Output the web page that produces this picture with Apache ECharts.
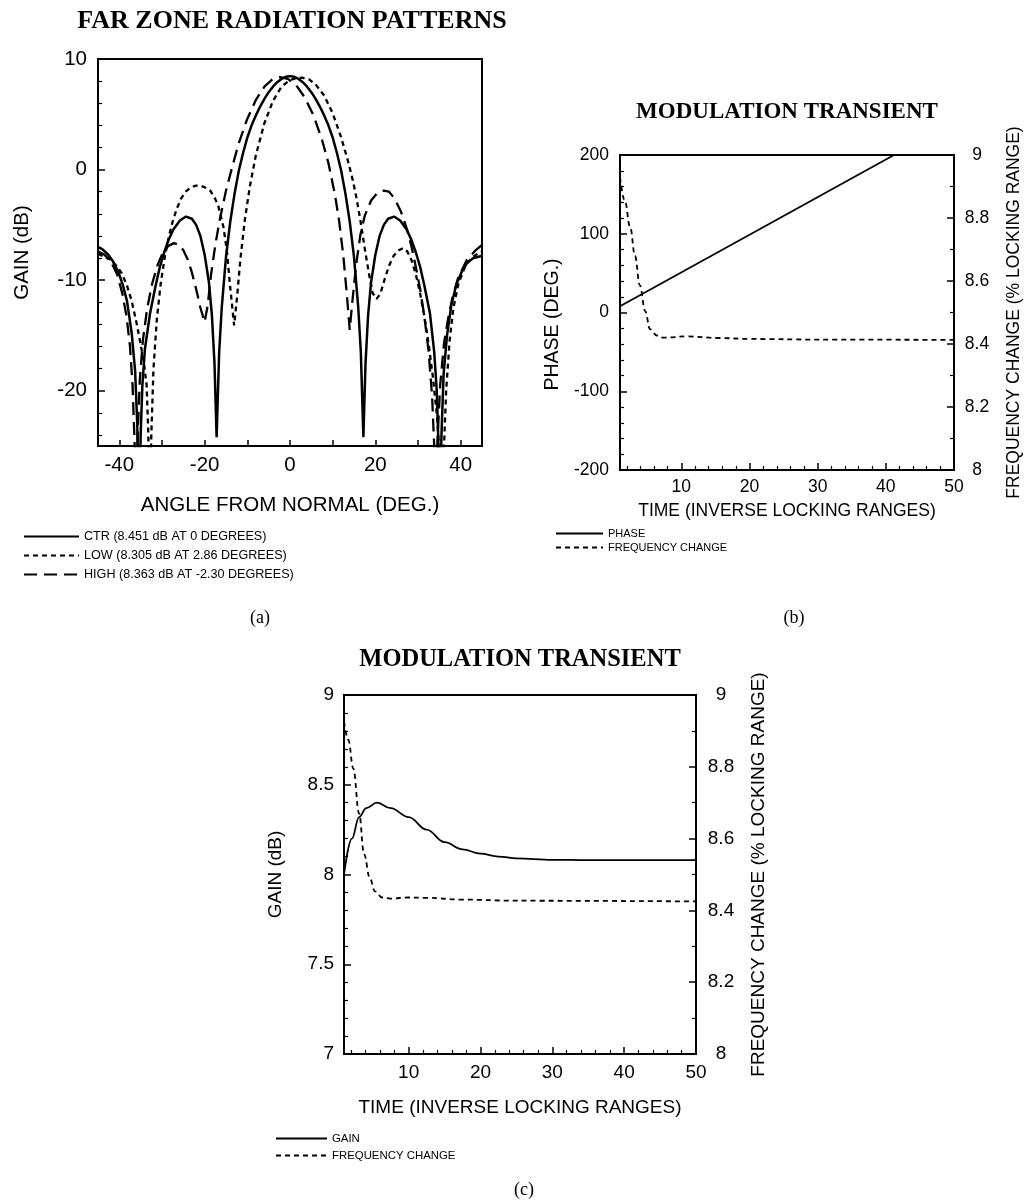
<!DOCTYPE html>
<html>
<head>
<meta charset="utf-8">
<script src="https://cdn.jsdelivr.net/npm/echarts@6/dist/echarts.min.js"></script>
<style>
  html, body { margin: 0; padding: 0; background: #fff; }
  #chart { width: 1024px; height: 1201px; }
</style>
</head>
<body>
<div id="chart"></div>
<script>
  // (a) far zone radiation patterns, [angle (deg), gain (dB)]
  var ctrPattern = [
    [-45,-7.0],[-44,-7.2],[-42.6,-7.7],[-41.5,-8.3],[-40.2,-9.3],[-39.2,-10.4],[-38.2,-11.9],[-37.1,-14.8],
    [-36.3,-18.2],[-35.8,-23],[-35.4,-32],[-35,-24],[-34.6,-19.5],[-34,-16.2],[-32.8,-13.0],[-31.5,-10.5],
    [-30.5,-8.8],[-29.5,-7.5],[-28.5,-6.4],[-27.3,-5.4],[-25.8,-4.6],[-24.4,-4.25],[-23,-4.45],[-22,-5.0],
    [-21,-6.0],[-20,-7.7],[-19,-10.2],[-18.3,-13.2],[-17.7,-17.5],[-17.2,-24.2],[-16.6,-16.5],[-16,-12.5],
    [-15,-7.9],[-14,-4.7],[-13,-2.2],[-12,-0.1],[-11,1.5],[-10,2.9],[-9,4.0],[-8,4.9],[-7,5.7],[-6,6.4],
    [-5,7.0],[-4,7.5],[-3,7.9],[-2,8.2],[-1,8.39],[0,8.451],[1,8.39],[2,8.2],[3,7.9],[4,7.5],[5,7.0],
    [6,6.4],[7,5.7],[8,4.9],[9,4.0],[10,2.9],[11,1.5],[12,-0.1],[13,-2.2],[14,-4.7],[15,-7.9],[16,-12.5],
    [16.6,-16.5],[17.2,-24.2],[17.7,-17.5],[18.3,-13.2],[19,-10.2],[20,-7.7],[21,-6.0],[22,-5.0],[23,-4.45],
    [24.4,-4.25],[25.8,-4.6],[27.3,-5.4],[28.5,-6.4],[29.5,-7.5],[30.5,-8.8],[31.5,-10.5],[32.8,-13.0],
    [33.8,-16.5],[34.4,-20],[34.8,-25],[35.1,-32],[35.5,-24],[36,-18.5],[36.8,-15],[37.8,-12.3],[39,-10.4],
    [40.3,-9.2],[41.6,-8.4],[43,-8.0],[44,-7.9],[45,-7.8]
  ];
  var lowPattern = [
    [-45,-7.6],[-43.5,-7.9],[-41.8,-8.2],[-40.5,-8.8],[-39.4,-9.4],[-38.2,-10.5],[-37.1,-11.9],[-36,-13.8],
    [-35,-15.8],[-34.2,-17.6],[-33.6,-19.5],[-33.2,-24],[-32.9,-32],[-32.5,-24],[-32,-18],[-31.2,-13.5],
    [-30.3,-10.3],[-29.3,-7.8],[-28.3,-5.9],[-27.5,-4.7],[-26.5,-3.5],[-25.5,-2.6],[-24.3,-1.95],[-23.2,-1.6],
    [-22,-1.45],[-21,-1.45],[-20,-1.6],[-18.7,-1.9],[-17.6,-2.6],[-16.8,-3.3],[-15.6,-5.2],[-14.8,-7.3],
    [-14.1,-10.3],[-13.1,-14.1],[-12.4,-11.5],[-11.6,-8],[-10.6,-4.6],[-9.4,-1.5],[-8,1.3],[-6,4.2],[-4,6.2],
    [-2,7.5],[0,8.1],[1.5,8.27],[2.86,8.305],[4.5,8.15],[6,7.7],[8,6.7],[10,5.1],[12,2.9],[13.5,0.9],
    [14.5,-0.6],[15.5,-2.4],[16.5,-4.6],[17.5,-7.1],[18.5,-9.4],[19.4,-11.2],[20.3,-11.7],[21.2,-11.2],
    [22.2,-9.9],[23.2,-8.7],[24.3,-7.8],[25.5,-7.3],[26.5,-7.1],[27.5,-7.4],[28.5,-8.2],[29.5,-9.5],
    [30.5,-11.2],[31.5,-13.3],[32.5,-15.8],[33.5,-18.8],[34.5,-22.5],[35.2,-27],[35.6,-32],[36,-26],
    [36.6,-20],[37.4,-15.5],[38.3,-12.5],[39.5,-10.3],[41,-8.8],[42.5,-8.0],[44,-7.6],[45,-7.4]
  ];
  var highPattern = [
    [-45,-7.4],[-43.5,-7.7],[-42,-8.3],[-40.5,-9.5],[-39.3,-11.2],[-38.3,-13.3],[-37.5,-16],[-36.9,-19.5],
    [-36.4,-25],[-36.1,-32],[-35.7,-24],[-35.2,-19],[-34.5,-15.5],[-33.5,-12.6],[-32.3,-10.3],[-31,-8.6],
    [-29.8,-7.5],[-28.5,-6.9],[-27.2,-6.65],[-26,-6.8],[-25,-7.3],[-24,-8.1],[-23,-9.3],[-22,-10.8],
    [-21,-12.5],[-20,-13.8],[-19.3,-12.3],[-18.5,-9.5],[-17.5,-6.8],[-16.5,-4.6],[-15,-1.9],[-13.5,0.3],
    [-12,2.4],[-10,4.6],[-8,6.3],[-6,7.5],[-4,8.2],[-2.3,8.363],[-0.5,8.2],[1.5,7.6],[3.5,6.5],[5.5,4.9],
    [7.5,2.7],[9,0.6],[10.5,-2.2],[11.5,-4.6],[12.5,-7.8],[13.3,-11.2],[14,-14.5],[14.6,-12],[15.5,-8.6],
    [16.5,-5.9],[17.5,-4.2],[19,-2.8],[20.5,-2.1],[22,-1.9],[23.2,-2.0],[24.5,-2.6],[26,-3.8],[27.5,-5.5],
    [28.5,-7],[29.5,-8.8],[30.5,-10.8],[31.5,-13.3],[32.5,-16.5],[33.3,-20.5],[33.8,-25],[34.1,-32],
    [34.5,-25],[35.2,-19.5],[36.1,-15.7],[37.1,-13.4],[38,-11.7],[39.4,-9.8],[41.4,-8.2],[43.5,-7.3],[45,-6.8]
  ];

  // (b) modulation transient, [time (inverse locking ranges), value]
  var phaseB = [[1,8],[41.2,200]];
  var freqB = [
    [1,8.93],[1.7,8.855],[2.5,8.77],[3.2,8.68],[3.9,8.587],[4.7,8.504],[5.4,8.447],[6.4,8.427],
    [7.3,8.42],[10.8,8.424],[15.6,8.419],[20,8.416],[30,8.414],[50,8.413]
  ];

  // (c) modulation transient
  var gainC = [
    [1,8.0],[2.1,8.2],[3.1,8.32],[4.1,8.37],[5.6,8.40],[7.5,8.37],[10,8.32],[12.5,8.25],[15,8.18],
    [17.5,8.14],[20,8.116],[22.5,8.10],[25,8.09],[30,8.082],[35,8.08],[50,8.08]
  ];
  var freqC = [
    [1,8.926],[1.6,8.875],[2.3,8.795],[3.1,8.67],[3.8,8.556],[4.6,8.49],[5.3,8.453],[6.3,8.436],
    [7.5,8.433],[10,8.436],[12.5,8.435],[17.5,8.43],[25,8.427],[50,8.425]
  ];

  // tick labels
  var angleLabels = [-40, -20, 0, 20, 40];
  var angleTicks = [-40, -30, -20, -10, 0, 10, 20, 30, 40];
  var gainLabelsA = [-20, -10, 0, 10];
  var gainMinorA = [-24, -22, -18, -16, -14, -12, -8, -6, -4, -2, 2, 4, 6, 8];
  var timeLabels = [10, 20, 30, 40, 50];
  var timeMinor = [2, 4, 6, 8, 12, 14, 16, 18, 22, 24, 26, 28, 32, 34, 36, 38, 42, 44, 46, 48];

  var SANS = '"Liberation Sans", Arial, sans-serif';
  var SERIF = '"Liberation Serif", "Times New Roman", serif';
  var FS_A = 20.5, FS_B = 17.5, FS_C = 19;

  var chart = echarts.init(document.getElementById('chart'));

  function nameStyle(size, extra) {
    var s = { fontFamily: SANS, fontSize: size, color: '#000' };
    for (var k in extra) s[k] = extra[k];
    return s;
  }
  function labelStyle(size, extra) {
    var s = { fontFamily: SANS, fontSize: size, color: '#000', margin: 10 };
    for (var k in extra) s[k] = extra[k];
    return s;
  }
  // axis that only draws small ticks
  function minorAxis(gridIndex, min, max, ticks, position) {
    return {
      type: 'value', gridIndex: gridIndex, min: min, max: max, position: position,
      axisLine: { show: false, onZero: false },
      axisLabel: { show: false },
      splitLine: { show: false },
      axisTick: { inside: true, length: 4, customValues: ticks, lineStyle: { color: '#000', width: 1.2 } }
    };
  }
  var axisLine = { show: true, onZero: false, lineStyle: { color: '#000', width: 2 } };
  var majorTick = { inside: true, length: 7, lineStyle: { color: '#000', width: 1.5 } };
  var minorTick = function (n) {
    return { show: true, splitNumber: n, length: 4, lineStyle: { color: '#000', width: 1.2 } };
  };
  var legendIcon = { opacity: 0, color: 'rgba(0,0,0,0)', borderWidth: 0 };

  var option = {
    backgroundColor: '#fff',
    animation: false,
    title: [
      { text: 'FAR ZONE RADIATION PATTERNS', left: 292, top: 8, textAlign: 'center', padding: 0,
        textStyle: { fontFamily: SERIF, fontWeight: 'bold', fontSize: 26, color: '#000' } },
      { text: 'MODULATION TRANSIENT', left: 787, top: 101, textAlign: 'center', padding: 0,
        textStyle: { fontFamily: SERIF, fontWeight: 'bold', fontSize: 23, color: '#000' } },
      { text: 'MODULATION TRANSIENT', left: 520, top: 647, textAlign: 'center', padding: 0,
        textStyle: { fontFamily: SERIF, fontWeight: 'bold', fontSize: 24.5, color: '#000' } },
      { text: '(a)', left: 260, top: 609, textAlign: 'center', padding: 0,
        textStyle: { fontFamily: SERIF, fontWeight: 'normal', fontSize: 18, color: '#000' } },
      { text: '(b)', left: 794, top: 609, textAlign: 'center', padding: 0,
        textStyle: { fontFamily: SERIF, fontWeight: 'normal', fontSize: 18, color: '#000' } },
      { text: '(c)', left: 524, top: 1181, textAlign: 'center', padding: 0,
        textStyle: { fontFamily: SERIF, fontWeight: 'normal', fontSize: 18, color: '#000' } }
    ],
    legend: [
      { data: ['CTR (8.451 dB AT 0 DEGREES)', 'LOW (8.305 dB AT 2.86 DEGREES)', 'HIGH (8.363 dB AT -2.30 DEGREES)'],
        orient: 'vertical', left: 23, top: 530, padding: 0, itemWidth: 55, itemHeight: 12, itemGap: 6,
        selectedMode: false, itemStyle: legendIcon,
        textStyle: { fontFamily: SANS, fontSize: 12.6, color: '#000' } },
      { data: ['PHASE', 'FREQUENCY CHANGE'],
        orient: 'vertical', left: 555, top: 528, padding: 0, itemWidth: 47, itemHeight: 12, itemGap: 3,
        selectedMode: false, itemStyle: legendIcon,
        textStyle: { fontFamily: SANS, fontSize: 11, color: '#000' } },
      { data: ['GAIN', 'FREQUENCY CHANGE'],
        orient: 'vertical', left: 275, top: 1133, padding: 0, itemWidth: 51, itemHeight: 12, itemGap: 6,
        selectedMode: false, itemStyle: legendIcon,
        textStyle: { fontFamily: SANS, fontSize: 11.4, color: '#000' } }
    ],
    grid: [
      { left: 98, top: 59, width: 384, height: 387, show: true, borderColor: '#000', borderWidth: 2 },
      { left: 620, top: 155, width: 335, height: 315, show: true, borderColor: '#000', borderWidth: 2 },
      { left: 344, top: 695, width: 352, height: 359, show: true, borderColor: '#000', borderWidth: 2 }
    ],
    xAxis: [
      { type: 'value', gridIndex: 0, min: -45, max: 45,
        name: 'ANGLE FROM NORMAL (DEG.)', nameLocation: 'middle', nameGap: 49, nameTextStyle: nameStyle(FS_A),
        axisLine: axisLine, splitLine: { show: false },
        axisTick: { inside: true, length: 6, customValues: angleTicks, lineStyle: { color: '#000', width: 1.5 } },
        axisLabel: labelStyle(FS_A, { customValues: angleLabels, margin: 9 }) },
      { type: 'value', gridIndex: 1, min: 1, max: 50,
        name: 'TIME (INVERSE LOCKING RANGES)', nameLocation: 'middle', nameGap: 32, nameTextStyle: nameStyle(FS_B),
        axisLine: axisLine, splitLine: { show: false },
        axisTick: { inside: true, length: 7, customValues: timeLabels, lineStyle: { color: '#000', width: 1.5 } },
        axisLabel: labelStyle(FS_B, { customValues: timeLabels, margin: 8 }) },
      minorAxis(1, 1, 50, timeMinor, 'bottom'),
      { type: 'value', gridIndex: 2, min: 1, max: 50,
        name: 'TIME (INVERSE LOCKING RANGES)', nameLocation: 'middle', nameGap: 44, nameTextStyle: nameStyle(FS_C),
        axisLine: axisLine, splitLine: { show: false },
        axisTick: { inside: true, length: 7, customValues: timeLabels, lineStyle: { color: '#000', width: 1.5 } },
        axisLabel: labelStyle(FS_C, { customValues: timeLabels, margin: 9 }) },
      minorAxis(2, 1, 50, timeMinor, 'bottom')
    ],
    yAxis: [
      { type: 'value', gridIndex: 0, min: -25, max: 10,
        name: 'GAIN (dB)', nameLocation: 'middle', nameGap: 65, nameTextStyle: nameStyle(FS_A),
        axisLine: axisLine, splitLine: { show: false },
        axisTick: { inside: true, length: 7, customValues: gainLabelsA, lineStyle: { color: '#000', width: 1.5 } },
        axisLabel: labelStyle(FS_A, { customValues: gainLabelsA, margin: 11 }) },
      minorAxis(0, -25, 10, gainMinorA, 'left'),
      { type: 'value', gridIndex: 1, min: -200, max: 200, interval: 100,
        name: 'PHASE (DEG.)', nameLocation: 'middle', nameGap: 57,
        nameTextStyle: nameStyle(19.5, { padding: [0, 24, 0, 0] }),
        axisLine: axisLine, splitLine: { show: false },
        axisTick: majorTick, minorTick: minorTick(5),
        axisLabel: labelStyle(FS_B, { margin: 11 }) },
      { type: 'value', gridIndex: 1, min: 8, max: 9, interval: 0.2, position: 'right',
        name: 'FREQUENCY CHANGE (% LOCKING RANGE)', nameLocation: 'middle', nameGap: 51, nameTextStyle: nameStyle(FS_B),
        axisLine: axisLine, splitLine: { show: false },
        axisTick: majorTick, minorTick: minorTick(2),
        axisLabel: labelStyle(FS_B, { margin: 23, align: 'center' }) },
      { type: 'value', gridIndex: 2, min: 7, max: 9, interval: 0.5,
        name: 'GAIN (dB)', nameLocation: 'middle', nameGap: 59, nameTextStyle: nameStyle(FS_C),
        axisLine: axisLine, splitLine: { show: false },
        axisTick: majorTick, minorTick: minorTick(5),
        axisLabel: labelStyle(FS_C, { margin: 10 }) },
      { type: 'value', gridIndex: 2, min: 8, max: 9, interval: 0.2, position: 'right',
        name: 'FREQUENCY CHANGE (% LOCKING RANGE)', nameLocation: 'middle', nameGap: 53, nameTextStyle: nameStyle(FS_C),
        axisLine: axisLine, splitLine: { show: false },
        axisTick: majorTick, minorTick: minorTick(2),
        axisLabel: labelStyle(FS_C, { margin: 25, align: 'center' }) }
    ],
    series: [
      { name: 'CTR (8.451 dB AT 0 DEGREES)', type: 'line', xAxisIndex: 0, yAxisIndex: 0, data: ctrPattern,
        symbol: 'none', itemStyle: { color: '#000' }, lineStyle: { color: '#000', width: 2.5, type: 'solid' } },
      { name: 'LOW (8.305 dB AT 2.86 DEGREES)', type: 'line', xAxisIndex: 0, yAxisIndex: 0, data: lowPattern,
        symbol: 'none', itemStyle: { color: '#000' }, lineStyle: { color: '#000', width: 2.3, type: [5, 4] } },
      { name: 'HIGH (8.363 dB AT -2.30 DEGREES)', type: 'line', xAxisIndex: 0, yAxisIndex: 0, data: highPattern,
        symbol: 'none', itemStyle: { color: '#000' }, lineStyle: { color: '#000', width: 2.3, type: [13, 7] } },

      { name: 'PHASE', type: 'line', xAxisIndex: 1, yAxisIndex: 2, data: phaseB,
        symbol: 'none', itemStyle: { color: '#000' }, lineStyle: { color: '#000', width: 1.8, type: 'solid' } },
      { name: 'FREQUENCY CHANGE', type: 'line', xAxisIndex: 1, yAxisIndex: 3, data: freqB,
        smooth: 0.4, smoothMonotone: 'x',
        symbol: 'none', itemStyle: { color: '#000' }, lineStyle: { color: '#000', width: 1.8, type: [5, 4] } },

      { name: 'GAIN', type: 'line', xAxisIndex: 3, yAxisIndex: 4, data: gainC,
        smooth: 0.4, smoothMonotone: 'x',
        symbol: 'none', itemStyle: { color: '#000' }, lineStyle: { color: '#000', width: 1.8, type: 'solid' } },
      { name: 'FREQUENCY CHANGE', type: 'line', xAxisIndex: 3, yAxisIndex: 5, data: freqC,
        smooth: 0.4, smoothMonotone: 'x',
        symbol: 'none', itemStyle: { color: '#000' }, lineStyle: { color: '#000', width: 1.8, type: [5, 4] } }
    ]
  };

  chart.setOption(option);
</script>
</body>
</html>
